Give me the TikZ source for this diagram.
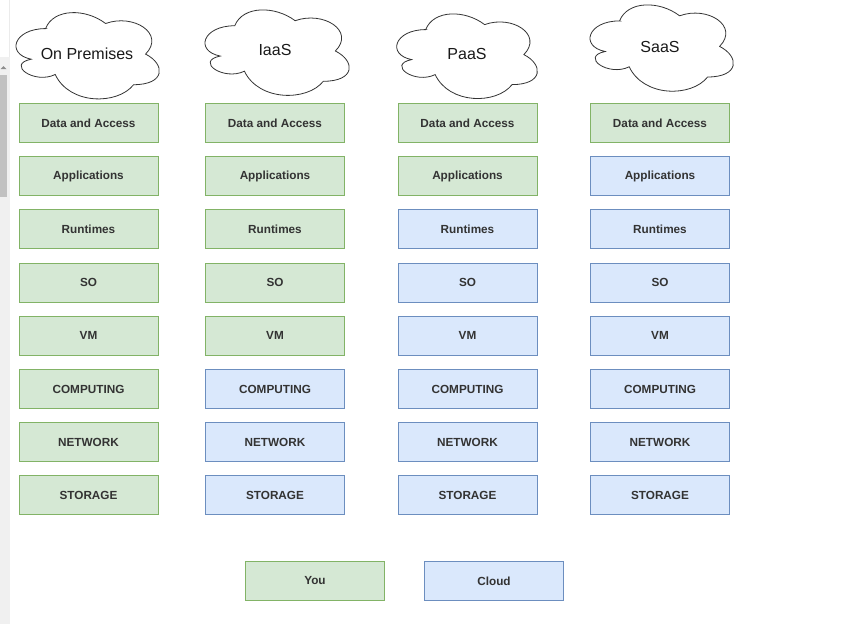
\documentclass[tikz,border=0pt]{standalone}
\usepackage{fontspec}
\setmainfont{Liberation Sans}
\definecolor{gfill}{HTML}{D5E8D4}
\definecolor{gline}{HTML}{82B366}
\definecolor{bfill}{HTML}{DAE8FC}
\definecolor{bline}{HTML}{6C8EBF}
\definecolor{txt}{HTML}{333333}
\definecolor{strip}{HTML}{F0F0F0}
\definecolor{thumb}{HTML}{C1C1C1}
\newcommand\cloudpath[4]{%
  \begin{scope}[shift={(#1,#2)},xscale=#3,yscale=#4]
    \draw[cloudline] (0.25,0.25) .. controls (0.05,0.25) and (0,0.5) .. (0.16,0.55)
      .. controls (0,0.6) and (0.18,0.8) .. (0.31,0.7)
      .. controls (0.4,1) and (0.7,1) .. (0.8,0.8)
      .. controls (1,0.8) and (1,0.6) .. (0.875,0.5)
      .. controls (1,0.3) and (0.8,0.1) .. (0.625,0.2)
      .. controls (0.5,0.05) and (0.3,0.05) .. cycle;
  \end{scope}}
\tikzset{
  cloudline/.style={draw=black!80, line width=0.8pt, fill=white},
  cloudtxt/.style={font=\fontsize{16}{18}\selectfont, text=black!90, inner sep=0pt},
  layer/.style={rectangle, minimum width=139pt, minimum height=39pt, inner sep=0pt,
    line width=0.7pt, font=\fontsize{11.75}{14}\selectfont\bfseries, text=txt},
  you/.style={layer, fill=gfill, draw=gline},
  prov/.style={layer, fill=bfill, draw=bline},
}
\begin{document}
\begin{tikzpicture}[x=1pt,y=-1pt]
\useasboundingbox (0,0) rectangle (848,624);
\fill[white] (0,0) rectangle (848,624);
% left scroll strip
\fill[strip] (0,57) rectangle (9.5,624);
\draw[black!8, line width=0.6pt] (9.5,0) -- (9.5,57);
\fill[thumb] (0,75) rectangle (7,197);
\fill[black!45] (0.5,69) -- (3.5,66) -- (6.5,69) -- cycle;
% clouds
\cloudpath{5.6}{3.1}{160}{102}
\cloudpath{194.5}{0.5}{161}{101}
\cloudpath{386.5}{4.6}{157}{100}
\cloudpath{579.6}{-4.6}{160}{102}
\node[cloudtxt] (c1) at (87,54) {On Premises};
\node[cloudtxt] (c2) at (275,50) {IaaS};
\node[cloudtxt] (c3) at (467,54) {PaaS};
\node[cloudtxt] (c4) at (660,47) {SaaS};
% column 1: On Premises
\node[you] (a1) at (88.5,123) {Data and Access};
\node[you] (a2) at (88.5,176) {Applications};
\node[you] (a3) at (88.5,229) {Runtimes};
\node[you] (a4) at (88.5,282.5) {SO};
\node[you] (a5) at (88.5,335.5) {VM};
\node[you] (a6) at (88.5,389) {COMPUTING};
\node[you] (a7) at (88.5,442) {NETWORK};
\node[you] (a8) at (88.5,495) {STORAGE};
% column 2: IaaS
\node[you] (b1) at (275,123) {Data and Access};
\node[you] (b2) at (275,176) {Applications};
\node[you] (b3) at (275,229) {Runtimes};
\node[you] (b4) at (275,282.5) {SO};
\node[you] (b5) at (275,335.5) {VM};
\node[prov] (b6) at (275,389) {COMPUTING};
\node[prov] (b7) at (275,442) {NETWORK};
\node[prov] (b8) at (275,495) {STORAGE};
% column 3: PaaS
\node[you] (p1) at (467.5,123) {Data and Access};
\node[you] (p2) at (467.5,176) {Applications};
\node[prov] (p3) at (467.5,229) {Runtimes};
\node[prov] (p4) at (467.5,282.5) {SO};
\node[prov] (p5) at (467.5,335.5) {VM};
\node[prov] (p6) at (467.5,389) {COMPUTING};
\node[prov] (p7) at (467.5,442) {NETWORK};
\node[prov] (p8) at (467.5,495) {STORAGE};
% column 4: SaaS
\node[you] (s1) at (660,123) {Data and Access};
\node[prov] (s2) at (660,176) {Applications};
\node[prov] (s3) at (660,229) {Runtimes};
\node[prov] (s4) at (660,282.5) {SO};
\node[prov] (s5) at (660,335.5) {VM};
\node[prov] (s6) at (660,389) {COMPUTING};
\node[prov] (s7) at (660,442) {NETWORK};
\node[prov] (s8) at (660,495) {STORAGE};
% legend
\node[you] (lyou) at (315,581) {You};
\node[prov] (lcloud) at (494,581) {Cloud};
\end{tikzpicture}
\end{document}
